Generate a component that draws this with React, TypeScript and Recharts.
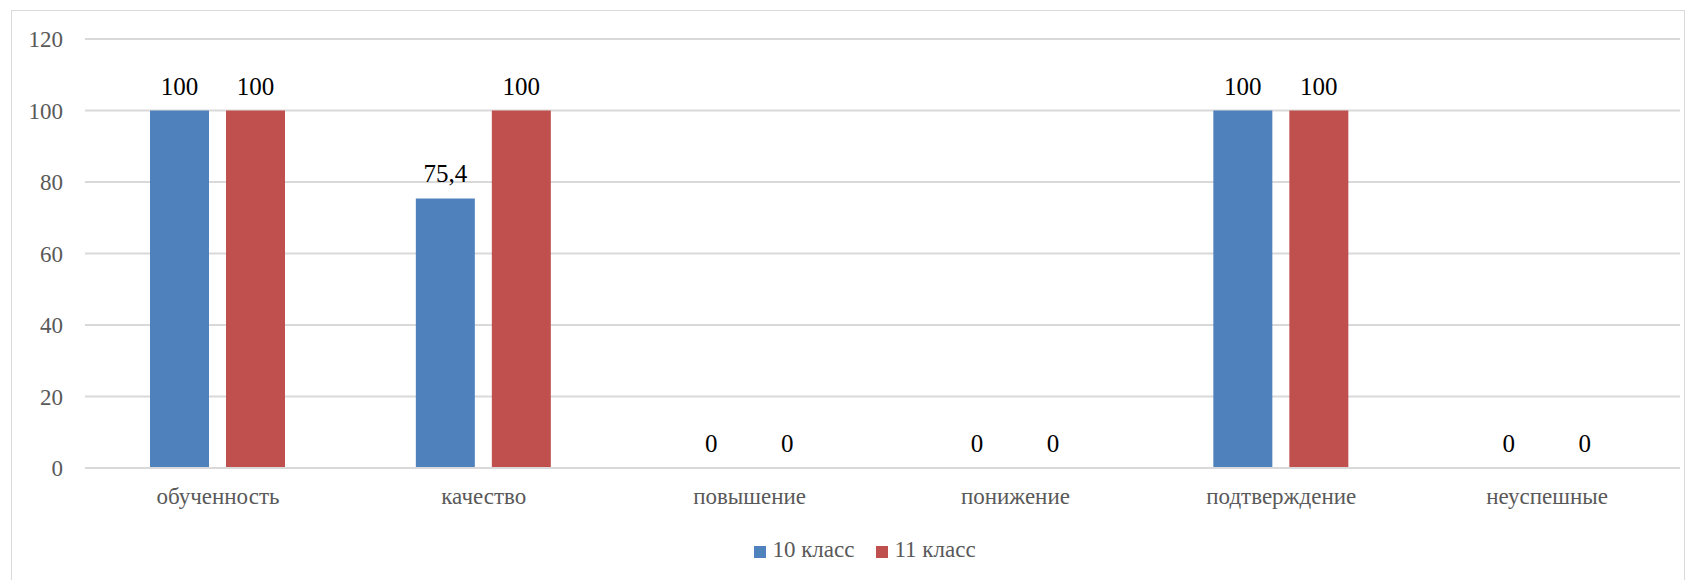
import { BarChart, Bar, XAxis, YAxis, CartesianGrid, Legend, LabelList } from 'recharts';

const categories = ['обученность', 'качество', 'повышение', 'понижение', 'подтверждение', 'неуспешные'];
const class10 = [100, 75.4, 0, 0, 100, 0];
const class11 = [100, 100, 0, 0, 100, 0];
const yTicks = [0, 20, 40, 60, 80, 100, 120];

const data = categories.map((name, i) => ({ name, c10: class10[i], c11: class11[i] }));

const font = "'Liberation Serif', serif";
const fmt = (v: number) => String(v).replace('.', ',');

export default function App() {
  return (
    <div style={{ position: 'absolute', left: 0, top: 0, width: 1687, height: 580, background: '#fff', overflow: 'hidden', fontFamily: font }}>
      <div
        style={{
          position: 'absolute',
          left: 11,
          top: 10,
          width: 1672,
          height: 600,
          border: '1px solid #d9d9d9',
        }}
      />
      <BarChart
        width={1687}
        height={580}
        data={data}
        margin={{ top: 39, right: 7, left: 0, bottom: 52 }}
        barGap={17}
        barSize={59}
      >
        <CartesianGrid vertical={false} stroke="#d9d9d9" strokeWidth={2} />
        <XAxis
          dataKey="name"
          axisLine={{ stroke: '#d9d9d9', strokeWidth: 2 }}
          tickLine={false}
          height={30}
          tickMargin={14}
          tick={{ fill: '#595959', fontSize: 23, style: { fontFamily: font } }}
        />
        <YAxis
          width={85}
          domain={[0, 120]}
          ticks={yTicks}
          axisLine={false}
          tickLine={false}
          tickMargin={16}
          tick={{ fill: '#595959', fontSize: 23, style: { fontFamily: font } }}
        />
        <Legend
          iconType="square"
          iconSize={12}
          wrapperStyle={{ top: 537, left: 36, height: 30, fontFamily: font, fontSize: 23 }}
          formatter={(value: string) => (
            <span style={{ color: '#595959', marginLeft: 2, marginRight: 12 }}>{value}</span>
          )}
        />
        <Bar dataKey="c10" name="10 класс" fill="#4f81bd" minPointSize={0.01} isAnimationActive={false}>
          <LabelList dataKey="c10" position="top" offset={16} formatter={fmt} fill="#000" fontSize={25} style={{ fontFamily: font }} />
        </Bar>
        <Bar dataKey="c11" name="11 класс" fill="#c0504d" minPointSize={0.01} isAnimationActive={false}>
          <LabelList dataKey="c11" position="top" offset={16} formatter={fmt} fill="#000" fontSize={25} style={{ fontFamily: font }} />
        </Bar>
      </BarChart>
    </div>
  );
}
